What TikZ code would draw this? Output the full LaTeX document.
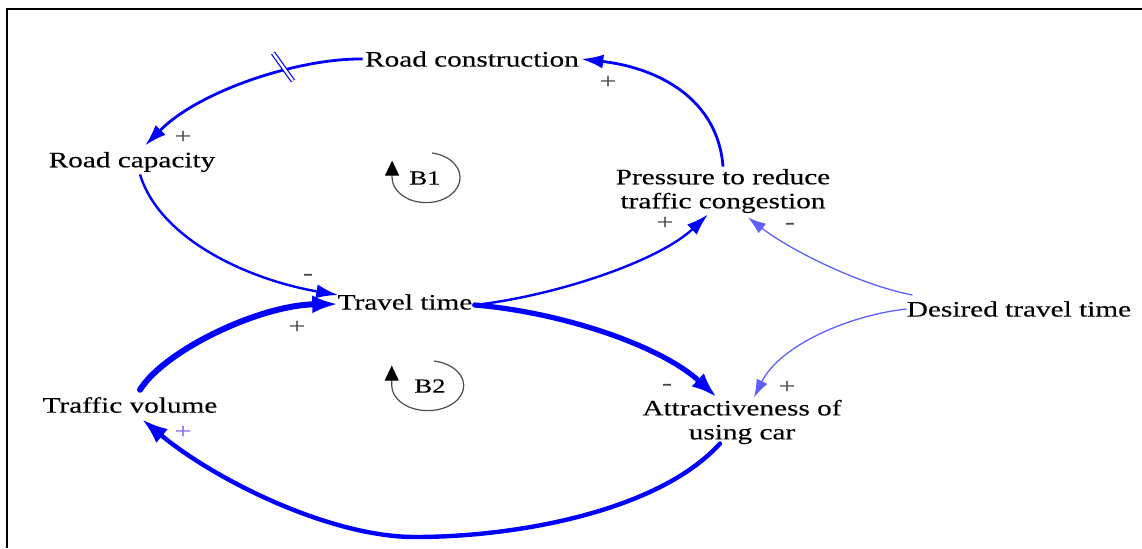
\documentclass[tikz,border=0pt]{standalone}
\usepackage{fontspec}
\setmainfont{Liberation Serif}[FakeStretch=1.33, FakeBold=0.3]
\usepackage{tikz}
\usetikzlibrary{arrows.meta}

\definecolor{linkblue}{RGB}{0,0,255}
\definecolor{faintblue}{RGB}{95,95,255}
\definecolor{signgray}{RGB}{70,70,70}
\definecolor{signviolet}{RGB}{125,100,245}

\begin{document}
\begin{tikzpicture}[x=0.5pt, y=-0.5pt,
            var/.style={inner sep=1pt, align=center, font=\fontsize{11}{12}\selectfont},
            looplabel/.style={inner sep=1pt, font=\fontsize{10}{12}\selectfont},
            sign/.style={inner sep=0pt, text=signgray, font=\fontsize{11}{12}\selectfont},
            link/.style={draw=linkblue, line width=1.4pt, -{Latex[length=11pt, width=7pt]}},
            thicklink/.style={link, line width=3pt, line cap=round, -{Latex[length=13pt, width=9pt]}},
            thinlink/.style={link, draw=faintblue, line width=0.65pt, -{Latex[length=9pt, width=6pt]}},
            loopmark/.style={draw=black!70, line width=0.6pt, -{Triangle[length=7.5pt, width=7pt, color=black]}}]

            \useasboundingbox (0,0) rectangle (1142,548);
            \draw[line width=1.25pt] (7,548) -- (7,9) -- (1142,9);

            \node[var] (rcon) at (472,59) {Road construction};
            \node[var] (rcap) at (132,162) {Road capacity};
            \node[var] (press) at (723,191) {Pressure to reduce\\traffic congestion};
            \node[var] (ttime) at (405,302) {Travel time};
            \node[var] (desired) at (1019,309) {Desired travel time};
            \node[var] (tvol) at (130,405) {Traffic volume};
            \node[var] (attr) at (742,422) {Attractiveness of\\using car};

            \node[looplabel] (b1) at (425,178) {B1};
            \node[looplabel] (b2) at (430,386) {B2};
            \draw[loopmark] ([shift={(7,-25)}]b1.center) arc[start angle=-80, end angle=180, x radius=34, y radius=25] -- ++(0,-17);
            \draw[loopmark] ([shift={(4,-25)}]b2.center) arc[start angle=-80, end angle=180, x radius=36, y radius=25] -- ++(0,-20);

            \draw[link] (rcon.west) .. controls (300,58) and (200,90) .. ([shift={(13,-4)}]rcap.north);
            \draw[linkblue, line width=0.6pt, double=white, double distance=1.2pt] (273,53) -- (293,81);
            \draw[link] (press.north) .. controls (718,100) and (660,68) .. (rcon.east);
            \draw[link, line width=1.2pt] ([shift={(8,0)}]rcap.south) .. controls (160,240) and (250,280) .. ([shift={(3,-7)}]ttime.west);
            \draw[thicklink] ([shift={(10,-5)}]tvol.north) .. controls (165,350) and (260,305) .. ([shift={(3,2)}]ttime.west);
            \draw[link, line width=1.2pt] ([shift={(0,3)}]ttime.east) .. controls (560,295) and (660,260) .. ([shift={(-15,-1)}]press.south);
            \draw[thicklink, line width=2.6pt] ([shift={(0,3)}]ttime.east) .. controls (560,312) and (660,345) .. ([shift={(-25,0)}]attr.north);
            \draw[thinlink] ([shift={(8,-14)}]desired.west) .. controls (860,285) and (790,250) .. ([shift={(25,2)}]press.south);
            \draw[thinlink] ([shift={(2,0)}]desired.west) .. controls (850,315) and (780,345) .. ([shift={(12,0)}]attr.north);
            \draw[thicklink, line width=2.2pt] ([shift={(-22,-3)}]attr.south) .. controls (660,510) and (520,537) .. (415,537) .. controls (330,537) and (215,480) .. ([shift={(12,4)}]tvol.south);

            \node[sign] (s1) at (183,137) {+};
            \node[sign] (s2) at (608,82) {+};
            \node[sign] (s3) at (308,277) {-};
            \node[sign] (s4) at (297,327) {+};
            \node[sign] (s5) at (665,223) {+};
            \node[sign] (s6) at (790,226) {-};
            \node[sign] (s7) at (667,387) {-};
            \node[sign] (s8) at (787,387) {+};
            \node[sign, text=signviolet] (s9) at (183,432) {+};
        \end{tikzpicture}
\end{document}
